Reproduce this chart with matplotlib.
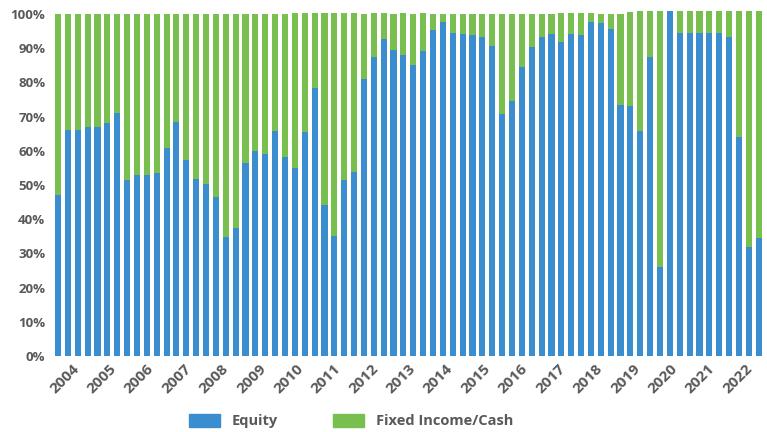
import numpy as np
import matplotlib
matplotlib.use("Agg")
import matplotlib.pyplot as plt
from matplotlib.patches import Patch

# quarterly allocation (percent)
equity = [47, 66, 66, 67, 67, 68, 71, 51.5, 53, 53,
          53.5, 60.7, 68.5, 57.2, 51.8, 50.3, 46.4, 34.8, 37.5, 56.4,
          59.8, 59.2, 65.7, 58.1, 54.9, 65.5, 78.3, 44.1, 35.1, 51.5,
          53.8, 80.9, 87.5, 92.6, 89.4, 87.9, 85.1, 89.1, 95.2, 97.6,
          94.4, 94.1, 93.8, 93.2, 90.6, 70.8, 74.7, 84.4, 90.3, 93.2,
          94.1, 91.7, 94.1, 93.8, 97.6, 97.3, 95.5, 73.4, 73.2, 65.8,
          87.4, 26.1, 100.9, 94.3, 94.3, 94.3, 94.3, 94.3, 93.2, 64.0,
          32.0, 34.4]
fixed_income = [53, 34, 34, 33, 33, 32, 29, 48.5, 47, 47,
                46.5, 39.3, 31.5, 42.8, 48.2, 49.7, 53.6, 65.2, 62.5, 43.6,
                40.2, 40.8, 34.3, 41.9, 45.5, 34.9, 22.1, 56.3, 65.3, 48.9,
                46.6, 19.1, 12.9, 7.8, 10.6, 12.5, 14.9, 11.3, 4.8, 2.4,
                5.6, 5.9, 6.2, 6.8, 9.4, 29.2, 25.3, 15.6, 9.7, 6.8,
                5.9, 8.7, 6.1, 6.4, 2.6, 2.7, 4.5, 26.6, 27.4, 35.1,
                13.5, 74.8, 0, 6.6, 6.6, 6.6, 6.6, 6.6, 7.7, 36.9,
                68.9, 66.5]
years = [str(y) for y in range(2004, 2023)]

blue = "#3a8ecf"
green = "#79bf50"
grey = "#595959"

plt.rcParams['font.family'] = ['Open Sans', 'DejaVu Sans']

fig = plt.figure(figsize=(7.67, 4.32), dpi=100)
ax = fig.add_axes([0.0679, 0.176, 0.929, 0.8035])

x = np.arange(len(equity))
ax.bar(x, equity, width=0.62, color=blue)
ax.bar(x, fixed_income, width=0.62, bottom=equity, color=green)

ax.set_xlim(-0.6, len(equity) - 0.4)
ax.set_ylim(0, 101.5)

ax.set_yticks(range(0, 101, 10))
ax.set_yticklabels([f"{v}%" for v in range(0, 101, 10)])
ax.set_xticks(np.linspace(1.4, 69.6, len(years)))
ax.set_xticklabels(years, rotation=45, ha='right', rotation_mode='anchor')

ax.tick_params(length=0, labelcolor=grey)
ax.tick_params(axis='y', pad=5, labelsize=9.5)
ax.tick_params(axis='x', pad=4, labelsize=11)
for lbl in ax.get_xticklabels() + ax.get_yticklabels():
    lbl.set_fontweight('bold')
for s in ax.spines.values():
    s.set_visible(False)

handles = [Patch(color=blue, label="Equity"),
           Patch(color=green, label="Fixed Income/Cash")]
leg = fig.legend(handles=handles, loc='center', bbox_to_anchor=(0.458, 0.025),
                 ncol=2, frameon=False, handlelength=2.1, handleheight=0.95,
                 handletextpad=0.8, columnspacing=3.8,
                 prop={'size': 10.5, 'weight': 'bold'})
for t in leg.get_texts():
    t.set_color(grey)

fig.savefig("out.png", dpi=100)
